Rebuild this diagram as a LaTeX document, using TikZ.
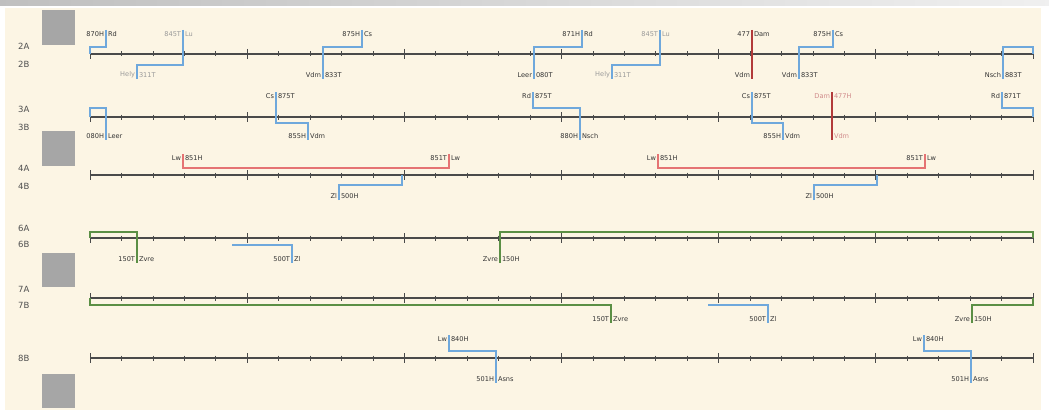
\documentclass[tikz,border=0pt]{standalone}
\usepackage{fontspec}
\setsansfont{DejaVu Sans}
\renewcommand\familydefault{\sfdefault}
\definecolor{bgc}{HTML}{FCF5E4}
\definecolor{sqc}{HTML}{A6A6A6}
\definecolor{tlc}{HTML}{4A4A4A}
\definecolor{blc}{HTML}{6FA8DC}
\definecolor{rdc}{HTML}{B23A3A}
\definecolor{rlc}{HTML}{E57373}
\definecolor{grc}{HTML}{5B8F45}
\definecolor{txc}{HTML}{333333}
\definecolor{gtx}{HTML}{9A9A9A}
\definecolor{rtxc}{HTML}{D08A8A}
\definecolor{rowc}{HTML}{505050}
\newcommand\lr[6][]{%
  \node[lbl,#1,anchor=east] (#2l) at ({#3-1.2},#4) {#5};
  \node[lbl,#1,anchor=west] (#2r) at ({#3+1.2},#4) {#6};}
\begin{document}
\begin{tikzpicture}[x=1pt,y=-1pt,
  tl/.style={line width=1.1pt,draw=tlc},
  tk/.style={line width=0.7pt,draw=tlc},
  bl/.style={line width=1.1pt,draw=blc},
  rd/.style={line width=1.2pt,draw=rdc},
  rl/.style={line width=1.1pt,draw=rlc},
  gr/.style={line width=1.2pt,draw=grc},
  lbl/.style={font=\fontsize{6.6}{7.5}\selectfont,inner sep=0.6pt,text=txc},
  gry/.style={text=gtx},
  rtx/.style={text=rtxc},
  rowlab/.style={font=\fontsize{8.5}{9.5}\selectfont,text=rowc,inner sep=0pt,anchor=west},
  sq/.style={fill=sqc}]
\useasboundingbox (0,0) rectangle (1049,412);
\fill[white] (0,0) rectangle (1049,412);
\shade[left color=gray!50,right color=gray!12] (0,0) rectangle (1049,6);
\fill[bgc] (5,8) rectangle (1041,410);
% grey squares
\fill[sq] (42,10) rectangle (75,45);
\fill[sq] (42,131) rectangle (75,166);
\fill[sq] (42,253) rectangle (75,287);
\fill[sq] (42,374) rectangle (75,408);
% row labels
\node[rowlab] (l2a) at (18,46) {2A};
\node[rowlab] (l2b) at (18,64) {2B};
\node[rowlab] (l3a) at (18,109) {3A};
\node[rowlab] (l3b) at (18,127) {3B};
\node[rowlab] (l4a) at (18,168) {4A};
\node[rowlab] (l4b) at (18,186) {4B};
\node[rowlab] (l6a) at (18,228) {6A};
\node[rowlab] (l6b) at (18,244) {6B};
\node[rowlab] (l7a) at (18,289) {7A};
\node[rowlab] (l7b) at (18,305) {7B};
\node[rowlab] (l8b) at (18,358) {8B};
% timelines
\foreach \y/\n in {54/r2,117/r3,175/r4,238/r6,298/r7,358/r8}{
  \coordinate (\n s) at (90,\y);
  \coordinate (\n e) at (1033,\y);
  \draw[tl] (\n s) -- (\n e);
  \foreach \i in {0,...,30}{
    \pgfmathsetmacro\xx{90+\i*31.433}
    \pgfmathtruncatemacro\m{mod(\i,5)}
    \ifnum\m=0
      \draw[tk] (\xx,\y-5) -- (\xx,\y+5);
    \else
      \draw[tk] (\xx,\y-2.5) -- (\xx,\y+2.5);
    \fi
  }
}
% row 2
\draw[bl] (106,30) |- (90,47) -- (r2s);
\lr{a1}{106}{34}{870H}{Rd}
\draw[bl] (183,30) |- (137,65) -- (137,79);
\lr[gry]{a2u}{183}{34}{845T}{Lu}
\lr[gry]{a2d}{137}{75}{Hely}{311T}
\draw[bl] (362,30) |- (323,47) -- (323,79);
\lr{a3u}{362}{34}{875H}{Cs}
\lr{a3d}{323}{75}{Vdm}{833T}
\draw[bl] (582,30) |- (534,47) -- (534,79);
\lr{a4u}{582}{34}{871H}{Rd}
\lr{a4d}{534}{75}{Leer}{080T}
\draw[bl] (660,30) |- (612,65) -- (612,79);
\lr[gry]{a5u}{660}{34}{845T}{Lu}
\lr[gry]{a5d}{612}{75}{Hely}{311T}
\draw[rd] (752,30) -- (752,79);
\lr{a6u}{752}{34}{477}{Dam}
\lr{a6d}{752}{75}{Vdm}{}
\draw[bl] (833,30) |- (799,47) -- (799,79);
\lr{a7u}{833}{34}{875H}{Cs}
\lr{a7d}{799}{75}{Vdm}{833T}
\draw[bl] (1003,79) |- (1033,47) -- (r2e);
\lr{a8d}{1003}{75}{Nsch}{883T}
% row 3
\draw[bl] (r3s) |- (106,108) -- (106,140);
\lr{b1d}{106}{136}{080H}{Leer}
\draw[bl] (276,92) |- (308,123) -- (308,140);
\lr{b2u}{276}{96}{Cs}{875T}
\lr{b2d}{308}{136}{855H}{Vdm}
\draw[bl] (533,92) |- (580,108) -- (580,140);
\lr{b3u}{533}{96}{Rd}{875T}
\lr{b3d}{580}{136}{880H}{Nsch}
\draw[bl] (752,92) |- (783,123) -- (783,140);
\lr{b4u}{752}{96}{Cs}{875T}
\lr{b4d}{783}{136}{855H}{Vdm}
\draw[rd] (832,92) -- (832,140);
\lr[rtx]{b5u}{832}{96}{Dam}{477H}
\lr[rtx]{b5d}{832}{136}{}{Vdm}
\draw[bl] (1002,92) |- (1033,108) -- (r3e);
\lr{b6u}{1002}{96}{Rd}{871T}
% row 4
\draw[rl] (183,154) |- (449,168) -- (449,154);
\lr{c1}{183}{158}{Lw}{851H}
\lr{c2}{449}{158}{851T}{Lw}
\draw[bl] (339,200) |- (402,185) -- (402,175);
\lr{c3}{339}{196}{Zl}{500H}
\draw[rl] (658,154) |- (925,168) -- (925,154);
\lr{c4}{658}{158}{Lw}{851H}
\lr{c5}{925}{158}{851T}{Lw}
\draw[bl] (814,200) |- (877,185) -- (877,175);
\lr{c6}{814}{196}{Zl}{500H}
% row 6
\draw[gr] (r6s) |- (137,232) -- (137,263);
\lr{d1}{137}{259}{150T}{Zvre}
\draw[bl] (232,245) -| (292,263);
\lr{d2}{292}{259}{500T}{Zl}
\draw[gr] (500,263) |- (1033,232) -- (r6e);
\lr{d3}{500}{259}{Zvre}{150H}
% row 7
\draw[gr] (r7s) |- (611,305) -- (611,323);
\lr{e1}{611}{319}{150T}{Zvre}
\draw[bl] (708,305) -| (768,323);
\lr{e2}{768}{319}{500T}{Zl}
\draw[gr] (972,323) |- (1033,305) -- (r7e);
\lr{e3}{972}{319}{Zvre}{150H}
% row 8
\draw[bl] (449,335) |- (496,351) -- (496,383);
\lr{f1}{449}{339}{Lw}{840H}
\lr{f2}{496}{379}{501H}{Asns}
\draw[bl] (924,335) |- (971,351) -- (971,383);
\lr{f3}{924}{339}{Lw}{840H}
\lr{f4}{971}{379}{501H}{Asns}
\end{tikzpicture}
\end{document}
